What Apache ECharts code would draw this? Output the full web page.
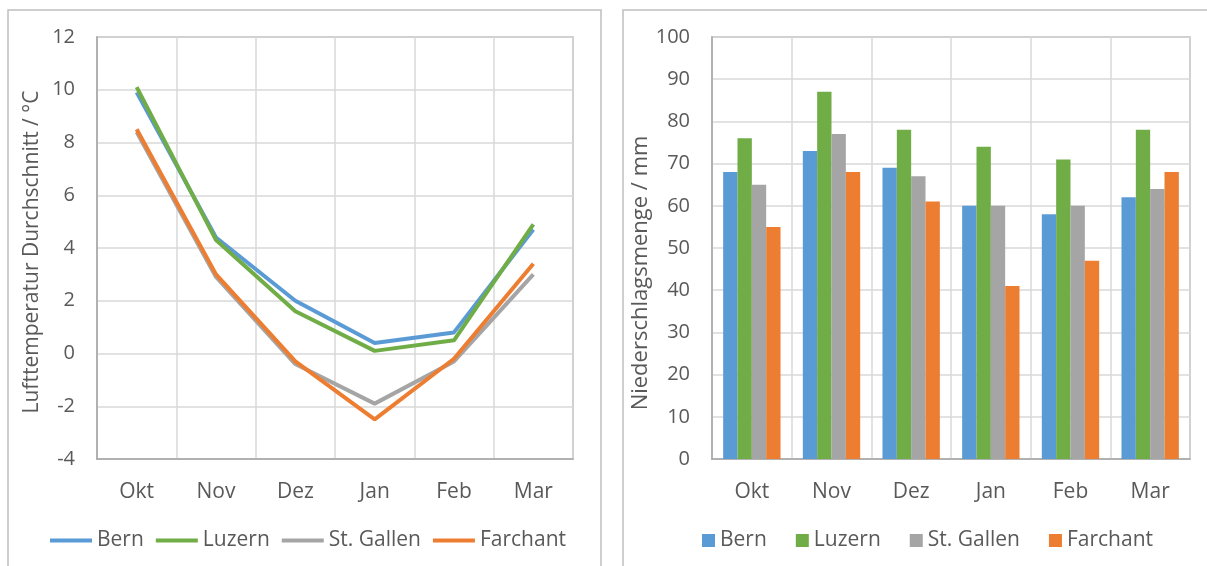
<!DOCTYPE html>
<html>
<head>
<meta charset="utf-8">
<script src="https://cdn.jsdelivr.net/npm/echarts@6/dist/echarts.min.js"></script>
<style>
  html, body { margin: 0; padding: 0; background: #fff; }
  #chart { width: 1207px; height: 566px; }
</style>
</head>
<body>
<div id="chart"></div>
<script>
// Monate
const months = ['Okt', 'Nov', 'Dez', 'Jan', 'Feb', 'Mar'];
const stations = ['Bern', 'Luzern', 'St. Gallen', 'Farchant'];
const colors = ['#5B9BD5', '#70AD47', '#A5A5A5', '#ED7D31'];

// Lufttemperatur (°C)
const tempBern = [9.9, 4.4, 2.0, 0.4, 0.8, 4.7];
const tempLuzern = [10.1, 4.3, 1.6, 0.1, 0.5, 4.9];
const tempStGallen = [8.4, 2.9, -0.4, -1.9, -0.3, 3.0];
const tempFarchant = [8.5, 3.0, -0.3, -2.5, -0.2, 3.4];

// Niederschlag (mm)
const rainBern = [68, 73, 69, 60, 58, 62];
const rainLuzern = [76, 87, 78, 74, 71, 78];
const rainStGallen = [65, 77, 67, 60, 60, 64];
const rainFarchant = [55, 68, 61, 41, 47, 68];

const temps = [tempBern, tempLuzern, tempStGallen, tempFarchant];
const rains = [rainBern, rainLuzern, rainStGallen, rainFarchant];

const font = 'Open Sans';
const textColor = '#595959';

let chart = echarts.init(document.getElementById('chart'));

function catAxis(gridIndex) {
  return {
    type: 'category',
    gridIndex: gridIndex,
    data: months,
    boundaryGap: true,
    axisLine: { show: true, onZero: false, lineStyle: { color: '#A6A6A6', width: 1.5 } },
    axisTick: { show: false },
    axisLabel: { color: textColor, fontSize: 21, fontFamily: font, margin: 23 },
    splitLine: { show: true, interval: 0, lineStyle: { color: '#D9D9D9', width: 1.5 } }
  };
}

function valAxis(gridIndex, min, max, interval, name, nameSize, nameGap, namePad) {
  return {
    type: 'value',
    gridIndex: gridIndex,
    min: min,
    max: max,
    interval: interval,
    name: name,
    nameLocation: 'middle',
    nameGap: nameGap,
    nameTextStyle: { color: textColor, fontSize: nameSize, fontFamily: font, padding: [0, namePad, 0, 0] },
    axisLine: { show: true, lineStyle: { color: '#A6A6A6', width: 1.5 } },
    axisTick: { show: false },
    axisLabel: { color: textColor, fontSize: 20, fontFamily: font, margin: 22 },
    splitLine: { show: true, lineStyle: { color: '#D9D9D9', width: 1.5 } }
  };
}

let series = [];
for (let i = 0; i < stations.length; i++) {
  series.push({
    name: stations[i],
    type: 'line',
    xAxisIndex: 0,
    yAxisIndex: 0,
    data: temps[i],
    symbol: 'none',
    lineStyle: { color: colors[i], width: 4 },
    itemStyle: { color: colors[i] },
    z: i === 2 ? 2 : 3 + i
  });
}
for (let i = 0; i < stations.length; i++) {
  series.push({
    name: stations[i] + ' ',
    type: 'bar',
    xAxisIndex: 1,
    yAxisIndex: 1,
    data: rains[i],
    barGap: '0%',
    barCategoryGap: '28%',
    itemStyle: { color: colors[i] }
  });
}

let option = {
  animation: false,
  textStyle: { fontFamily: font },
  graphic: [
    { type: 'rect', shape: { x: 8, y: 10, width: 593, height: 570 }, style: { fill: 'none', stroke: '#BFBFBF', lineWidth: 1.5 } },
    { type: 'rect', shape: { x: 623, y: 10, width: 600, height: 570 }, style: { fill: 'none', stroke: '#BFBFBF', lineWidth: 1.5 } }
  ],
  grid: [
    { left: 97, top: 37, width: 476, height: 422, show: true, borderColor: '#A6A6A6', borderWidth: 1.5 },
    { left: 712, top: 37, width: 478, height: 422, show: true, borderColor: '#A6A6A6', borderWidth: 1.5 }
  ],
  legend: [
    {
      data: stations,
      left: 45,
      top: 525,
      icon: 'rect',
      itemWidth: 42,
      itemHeight: 4,
      itemGap: 12,
      textStyle: { color: textColor, fontSize: 21, fontFamily: font }
    },
    {
      data: stations.map(s => s + ' '),
      left: 697,
      top: 525,
      icon: 'rect',
      itemWidth: 13,
      itemHeight: 13,
      itemGap: 29,
      formatter: (n) => n.trim(),
      textStyle: { color: textColor, fontSize: 21, fontFamily: font }
    }
  ],
  xAxis: [catAxis(0), catAxis(1)],
  yAxis: [
    valAxis(0, -4, 12, 2, 'Lufttemperatur Durchschnitt / °C', 21, 54, 8),
    valAxis(1, 0, 100, 10, 'Niederschlagsmenge / mm', 22, 46, 50)
  ],
  series: series
};

chart.setOption(option);
</script>
</body>
</html>
